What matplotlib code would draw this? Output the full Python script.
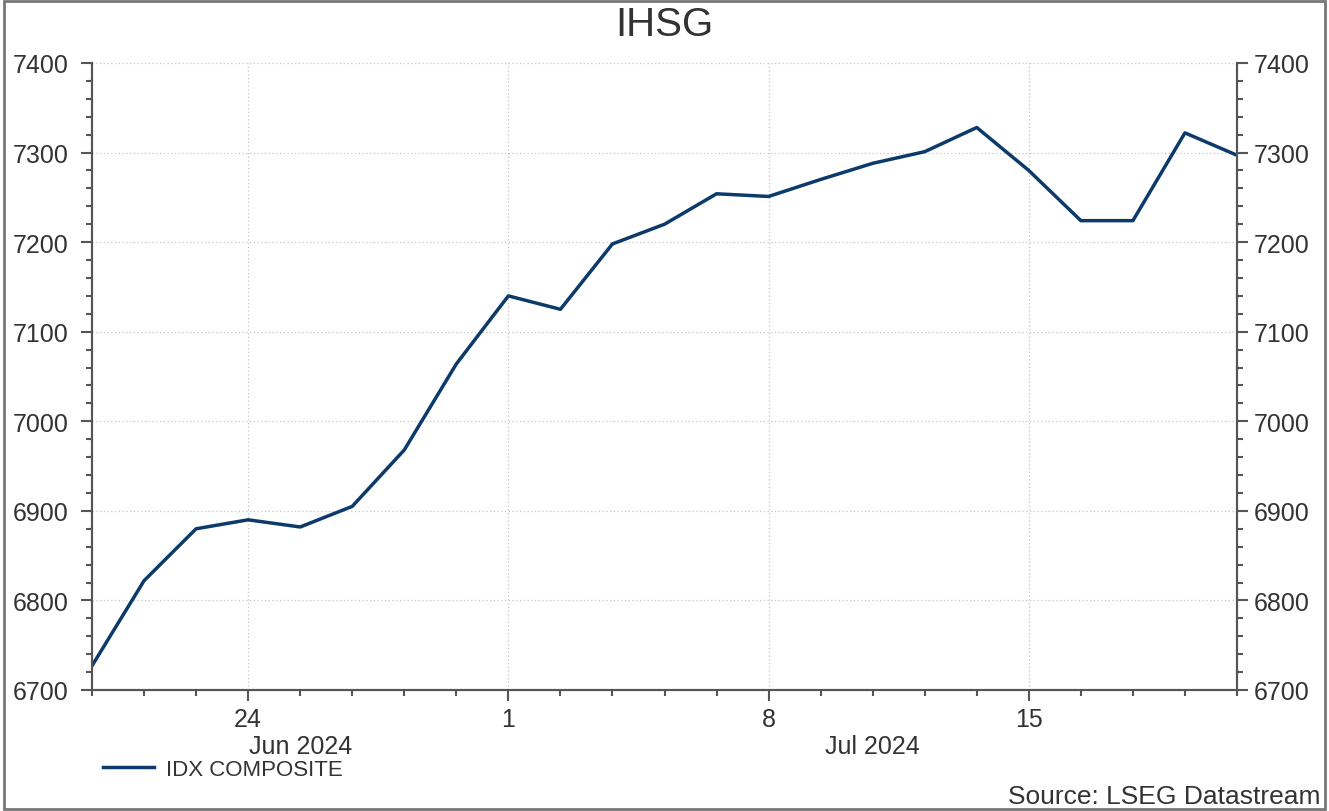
import matplotlib.pyplot as plt
import numpy as np
import pandas as pd
from matplotlib.ticker import MultipleLocator

plt.rcParams["font.family"] = ["Liberation Sans", "DejaVu Sans"]

# IDX Composite daily closes (business days)
dates = ["2024-06-19", "2024-06-20", "2024-06-21", "2024-06-24", "2024-06-25",
         "2024-06-26", "2024-06-27", "2024-06-28", "2024-07-01", "2024-07-02",
         "2024-07-03", "2024-07-04", "2024-07-05", "2024-07-08", "2024-07-09",
         "2024-07-10", "2024-07-11", "2024-07-12", "2024-07-15", "2024-07-16",
         "2024-07-17", "2024-07-18", "2024-07-19"]
idx_close = [6727, 6822, 6880, 6890, 6882, 6905, 6968, 7064, 7140, 7125,
             7198, 7220, 7254, 7251, 7270, 7288, 7301, 7328, 7280, 7224,
             7224, 7322, 7297]
month_labels = ["Jun 2024", "Jul 2024"]

dt = pd.to_datetime(dates)
x = np.arange(len(dt))
line_color = "#0c3a6b"
grey = "#555555"
txt = "#333333"

fig = plt.figure(figsize=(13.29, 8.12), dpi=100)
ax = fig.add_axes([92 / 1329, 1 - 691 / 812, (1237 - 92) / 1329, (691 - 64) / 812])

ax.plot(x, idx_close, color=line_color, lw=2.5, label="IDX COMPOSITE")

ax.set_xlim(0, len(x) - 1)
ax.set_ylim(6700, 7400)

# x ticks: Mondays major, every day minor
mondays = [i for i, d in enumerate(dt) if d.weekday() == 0]
ax.set_xticks(mondays)
ax.set_xticklabels([str(dt[i].day) for i in mondays])
ax.set_xticks(x, minor=True)

ax.yaxis.set_major_locator(MultipleLocator(100))
ax.yaxis.set_minor_locator(MultipleLocator(20))
ax.tick_params(axis="both", which="major", length=8, width=1.5, color=grey,
               labelsize=18, labelcolor=txt)
ax.tick_params(axis="both", which="minor", length=4, width=1.5, color=grey)
ax.tick_params(axis="y", pad=9)
ax.tick_params(axis="x", pad=4)

# right-hand axis mirrors the left
ax2 = ax.twinx()
ax2.set_ylim(ax.get_ylim())
ax2.yaxis.set_major_locator(MultipleLocator(100))
ax2.yaxis.set_minor_locator(MultipleLocator(20))
ax2.tick_params(axis="y", which="major", length=8, width=1.5, color=grey,
                labelsize=18, labelcolor=txt, pad=4)
ax2.tick_params(axis="y", which="minor", length=4, width=1.5, color=grey)

for a in (ax, ax2):
    for side in ["left", "right", "bottom"]:
        a.spines[side].set_color(grey)
        a.spines[side].set_linewidth(1.5)
    a.spines["top"].set_visible(False)

ax.grid(True, which="major", color="#c4c4c4", linestyle=(0, (1, 2)), lw=0.9)

# month labels centred under each month's range
month_of = np.array([d.month for d in dt])
for lab, m in zip(month_labels, [6, 7]):
    pos = np.where(month_of == m)[0]
    hi = pos[-1] + 1 if m == 6 else pos[-1]
    ax.text((pos[0] + hi) / 2, -0.089, lab, transform=ax.get_xaxis_transform(),
            ha="center", va="center", fontsize=18, color=txt)

ax.legend(loc="upper left", bbox_to_anchor=(-0.008, -0.078), frameon=False,
          fontsize=16, handlelength=2.3, handletextpad=0.55, labelcolor=txt)

fig.text(0.5, 1 - 25 / 812, "IHSG", ha="center", va="center", fontsize=29,
         color=txt)
fig.text(1 - 9 / 1329, 1 - 797 / 812, "Source: LSEG Datastream", ha="right",
         va="center", fontsize=19, color=txt)

# outer frame
fig.patches.append(plt.Rectangle((0.003, 0.003), 0.994, 0.994, transform=fig.transFigure,
                                 fill=False, edgecolor="#777777", lw=2))

fig.savefig("out.png", dpi=100)
